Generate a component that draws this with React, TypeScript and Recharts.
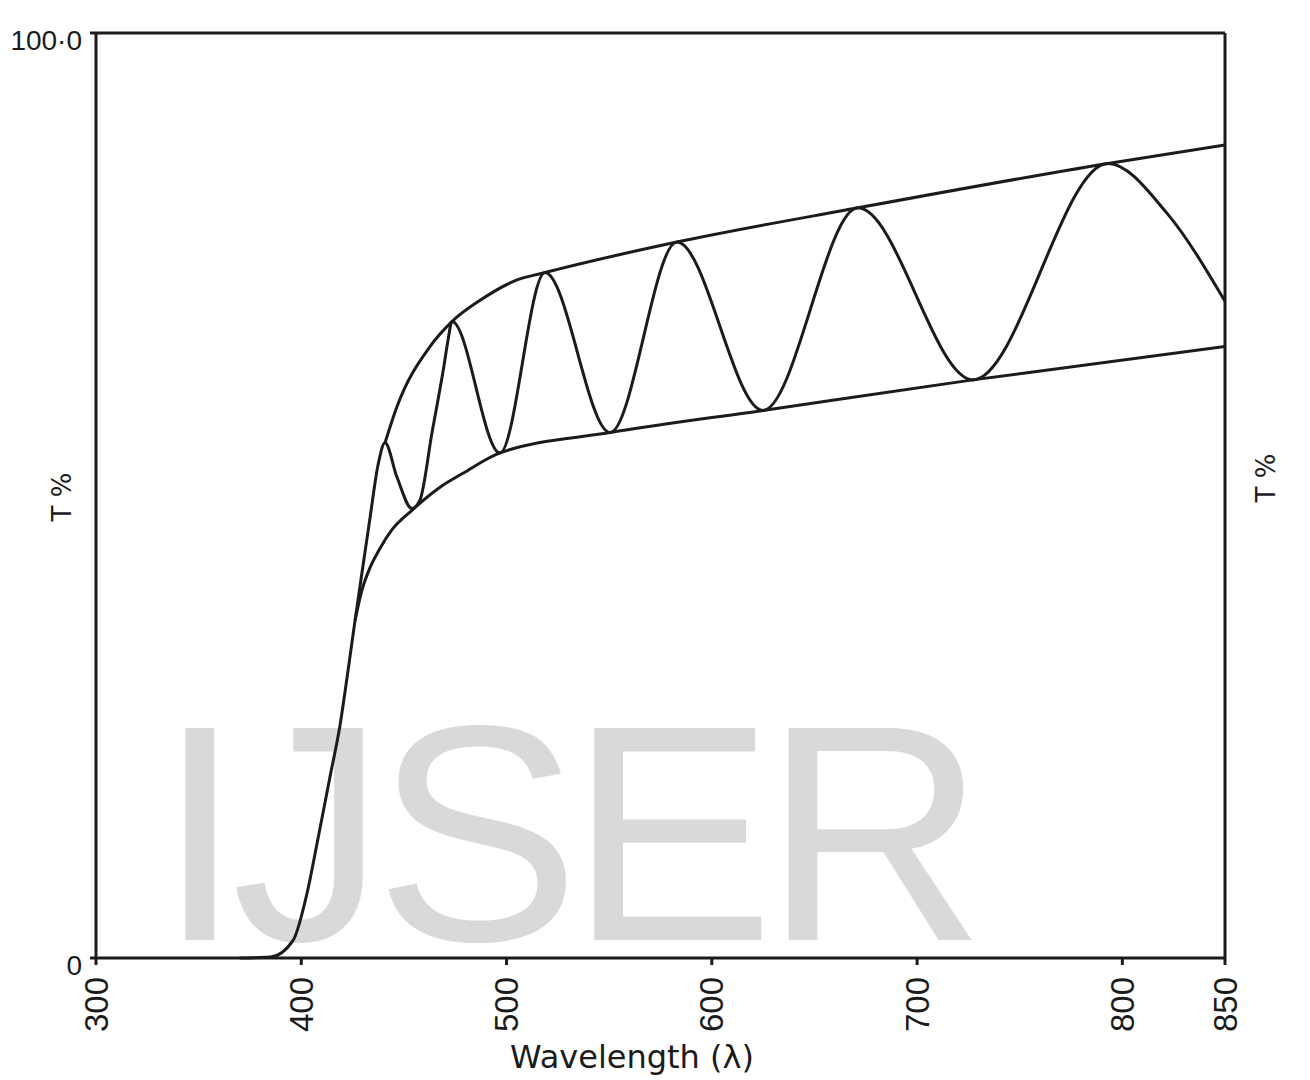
import { LineChart, Line, XAxis, YAxis, ReferenceLine } from 'recharts';

// axis ticks
const wlTicks = [300, 400, 500, 600, 700, 800, 850];
const tTicks = [0, 100];

// transmission curve of the film
const filmNm = [370, 385, 396, 402.8, 407.7, 414, 418.9, 422.8, 426.2, 429.6, 433.5, 437.4, 440.8, 446.6, 453.9, 457.8, 463.7, 469.5, 471.5, 473.4, 496.8, 518.7, 550.4, 583, 624.9, 671.2, 727.2, 793, 821.8, 850];
const filmT = [0, 0.1, 1.9, 7, 12.4, 19.6, 25.2, 31.1, 36.5, 41.7, 47.6, 53.3, 55.7, 52, 48.6, 49.5, 56.8, 64, 66.8, 68.8, 54.6, 74.1, 56.8, 77.4, 59.2, 81.1, 62.5, 85.9, 80.5, 71];

// envelope through the maxima (T max)
const upperNm = [440.8, 446.6, 462.7, 473.4, 487.1, 505.1, 518.7, 583, 671.2, 793, 850];
const upperT = [55.7, 59.6, 66.1, 68.8, 71.1, 73.3, 74.1, 77.4, 81.1, 85.9, 87.9];

// envelope through the minima (T min)
const lowerNm = [426.2, 429.6, 433.5, 438.4, 444.2, 453.9, 467.6, 478.8, 496.8, 550.4, 624.9, 727.2, 850];
const lowerT = [36.5, 39.8, 42.2, 44.3, 46.3, 48.4, 50.9, 52.4, 54.6, 56.8, 59.2, 62.5, 66.1];

const zip = (nm: number[], t: number[]) => nm.map((wl, i) => ({ wl, t: t[i] }));
const film = zip(filmNm, filmT);
const upper = zip(upperNm, upperT);
const lower = zip(lowerNm, lowerT);

const INK = '#1b1b1b';
const tickFont = "'Liberation Sans', Arial, sans-serif";
const titleFont = "'DejaVu Sans', sans-serif";

function WlTick(props: any) {
    const { x, y, payload } = props;
    const ty = y + 10;
    return (
        <text x={x} y={ty} transform={`rotate(-90, ${x}, ${ty})`} textAnchor="end" dominantBaseline="central"
            fontSize={33} fontFamily={tickFont} fill={INK}>
            {payload.value}
        </text>
    );
}

function LeftTick(props: any) {
    const { x, y, payload } = props;
    return (
        <text x={x - 6} y={y + 7} textAnchor="end" dominantBaseline="central" fontSize={28} fontFamily={tickFont} fill={INK}>
            {payload.value === 100 ? '100·0' : '0'}
        </text>
    );
}

function RightTick(props: any) {
    const { x, y, payload } = props;
    return (
        <text x={x - 3} y={y - 10} textAnchor="start" dominantBaseline="central" fontSize={28} fontFamily={tickFont} fill={INK}>
            {payload.value === 100 ? '100.0' : '0'}
        </text>
    );
}

function AxisTitle({ cx, cy, text, size, rotate }: { cx: number; cy: number; text: string; size: number; rotate?: boolean }) {
    return (
        <text x={cx} y={cy} transform={rotate ? `rotate(-90, ${cx}, ${cy})` : undefined} textAnchor="middle"
            dominantBaseline="central" fontSize={size} fontFamily={titleFont} fill={INK}>
            {text}
        </text>
    );
}

export default function App() {
    return (
        <div style={{ position: 'absolute', left: 0, top: 0, width: 1310, height: 1080, background: '#fff' }}>
            <svg width={1310} height={1080} style={{ position: 'absolute', left: 0, top: 0 }}>
                <text x={157} y={940} fontSize={308} letterSpacing={-11} fontFamily={tickFont} fill="#d9d9d9">IJSER</text>
            </svg>
            <div style={{ position: 'absolute', left: 0, top: 0 }}>
                <LineChart width={1310} height={1080} margin={{ top: 33, right: 0, bottom: 0, left: 0 }}>
                    <XAxis
                        dataKey="wl"
                        type="number"
                        domain={[300, 850]}
                        ticks={wlTicks}
                        allowDataOverflow
                        height={122}
                        tickSize={7}
                        stroke={INK}
                        strokeWidth={3}
                        tick={<WlTick />}
                        label={<AxisTitle cx={632} cy={1057} text="Wavelength (λ)" size={32} />}
                    />
                    <YAxis
                        yAxisId="left"
                        type="number"
                        domain={[0, 100]}
                        ticks={tTicks}
                        width={96}
                        tickSize={6}
                        stroke={INK}
                        strokeWidth={3}
                        tick={<LeftTick />}
                        label={<AxisTitle cx={62} cy={497} text="T %" size={26} rotate />}
                    />
                    <YAxis
                        yAxisId="right"
                        orientation="right"
                        type="number"
                        domain={[0, 100]}
                        ticks={tTicks}
                        width={85}
                        tickSize={6}
                        stroke={INK}
                        strokeWidth={3}
                        tick={<RightTick />}
                        label={<AxisTitle cx={1266} cy={478} text="T %" size={26} rotate />}
                    />
                    <ReferenceLine yAxisId="left" y={100} stroke={INK} strokeWidth={3} />
                    <Line yAxisId="left" data={upper} dataKey="t" type="monotone" stroke={INK} strokeWidth={3} dot={false} activeDot={false} isAnimationActive={false} />
                    <Line yAxisId="left" data={lower} dataKey="t" type="monotone" stroke={INK} strokeWidth={3} dot={false} activeDot={false} isAnimationActive={false} />
                    <Line yAxisId="left" data={film} dataKey="t" type="monotone" stroke={INK} strokeWidth={3} dot={false} activeDot={false} isAnimationActive={false} />
                </LineChart>
            </div>
        </div>
    );
}
